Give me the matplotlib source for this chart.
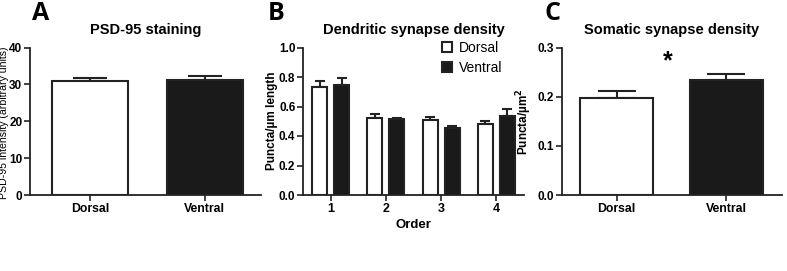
import matplotlib
matplotlib.use("Agg")
import matplotlib.pyplot as plt
import numpy as np

plt.rcParams['font.family'] = ['Liberation Sans', 'DejaVu Sans']

# Panel A
groups = ["Dorsal", "Ventral"]
psd_mean = [30.8, 31.3]
psd_err = [1.0, 1.0]

# Panel B
orders = [1, 2, 3, 4]
dend_dorsal = [0.73, 0.52, 0.51, 0.48]
dend_dorsal_err = [0.04, 0.03, 0.02, 0.02]
dend_ventral = [0.745, 0.515, 0.455, 0.535]
dend_ventral_err = [0.045, 0.01, 0.015, 0.045]

# Panel C
soma_mean = [0.198, 0.233]
soma_err = [0.014, 0.014]

fig = plt.figure(figsize=(7.87, 2.71), dpi=100)
H = 271.0
W = 787.0
bot = 1 - 195 / H
top = 1 - 47.5 / H

axA = fig.add_axes([30 / W, bot, 231 / W, top - bot])
axB = fig.add_axes([303 / W, bot, 221 / W, top - bot])
axC = fig.add_axes([562 / W, bot, 220 / W, top - bot])

LW = 1.5
colors = ["white", "#1a1a1a"]

def style(ax, xsize=8.8, ysize=8.5):
    for s in ["top", "right"]:
        ax.spines[s].set_visible(False)
    for s in ["left", "bottom"]:
        ax.spines[s].set_linewidth(1.3)
        ax.spines[s].set_color("#222222")
    ax.tick_params(axis="both", direction="out", length=4, width=1.2, color="#222222", pad=1.5)
    ax.tick_params(axis="x", labelsize=xsize)
    ax.tick_params(axis="y", labelsize=ysize)
    for lab in ax.get_xticklabels() + ax.get_yticklabels():
        lab.set_fontweight("bold")

# A
x = np.arange(len(groups))
axA.bar(x, psd_mean, width=0.66, color=colors, edgecolor="#222222", linewidth=LW, zorder=2)
axA.errorbar(x, psd_mean, yerr=[[0, 0], psd_err], fmt="none", ecolor="#222222",
             elinewidth=LW, capsize=12, capthick=LW, zorder=1)
axA.set_xlim(-0.52, 1.49)
axA.set_ylim(0, 40)
axA.set_yticks([0, 10, 20, 30, 40])
axA.set_xticks(x)
axA.set_xticklabels(groups)
style(axA)
axA.set_title("PSD-95 staining", fontsize=10.5, fontweight="bold", pad=10)
axA.set_ylabel("PSD-95 intensity (arbitrary units)", fontsize=7.6)
axA.yaxis.set_label_coords(-0.092, 0.49)

# B
xo = np.array(orders, dtype=float)
w = 0.27
axB.bar(xo - 0.2, dend_dorsal, width=w, color="white", edgecolor="#222222", linewidth=LW,
        zorder=2, label="Dorsal")
axB.bar(xo + 0.2, dend_ventral, width=w, color="#1a1a1a", edgecolor="#222222", linewidth=LW,
        zorder=2, label="Ventral")
axB.errorbar(xo - 0.2, dend_dorsal, yerr=[np.zeros(4), dend_dorsal_err], fmt="none",
             ecolor="#222222", elinewidth=LW, capsize=3.5, capthick=LW, zorder=1)
axB.errorbar(xo + 0.2, dend_ventral, yerr=[np.zeros(4), dend_ventral_err], fmt="none",
             ecolor="#222222", elinewidth=LW, capsize=3.5, capthick=LW, zorder=1)
axB.set_xlim(0.5, 4.5)
axB.set_ylim(0, 1.0)
axB.set_yticks([0.0, 0.2, 0.4, 0.6, 0.8, 1.0])
axB.set_yticklabels(["0.0", "0.2", "0.4", "0.6", "0.8", "1.0"])
axB.set_xticks(orders)
style(axB, xsize=9)
axB.set_title("Dendritic synapse density", fontsize=10.5, fontweight="bold", pad=10)
axB.set_ylabel("Puncta/µm length", fontsize=8.5, fontweight="bold")
axB.yaxis.set_label_coords(-0.115, 0.5)
axB.set_xlabel("Order", fontsize=9.5, fontweight="bold", labelpad=3)
leg = axB.legend(loc="upper right", bbox_to_anchor=(0.94, 1.10), frameon=False, fontsize=10,
                 handlelength=0.75, handleheight=0.75, handletextpad=0.5, labelspacing=0.4,
                 borderaxespad=0.2)

# C
axC.bar(x, soma_mean, width=0.67, color=colors, edgecolor="#222222", linewidth=LW, zorder=2)
axC.errorbar(x, soma_mean, yerr=[[0, 0], soma_err], fmt="none", ecolor="#222222",
             elinewidth=LW, capsize=14, capthick=LW, zorder=1)
axC.set_xlim(-0.5, 1.51)
axC.set_ylim(0, 0.3)
axC.set_yticks([0.0, 0.1, 0.2, 0.3])
axC.set_yticklabels(["0.0", "0.1", "0.2", "0.3"])
axC.set_xticks(x)
axC.set_xticklabels(groups)
style(axC)
axC.set_title("Somatic synapse density", fontsize=10.5, fontweight="bold", pad=10)
axC.set_ylabel("Puncta/µm$^\\mathbf{2}$", fontsize=8.5, fontweight="bold")
axC.yaxis.set_label_coords(-0.125, 0.5)
axC.text(0.47, 0.272, "*", ha="center", va="center", fontsize=18, fontweight="bold")

# Panel letters
for lx, lab in [(32, "A"), (268, "B"), (545, "C")]:
    fig.text(lx / W, 1 - 1 / H, lab, ha="left", va="top", fontsize=18, fontweight="bold",
             family=["Open Sans", "DejaVu Sans"])

fig.savefig("out.png", dpi=100)
